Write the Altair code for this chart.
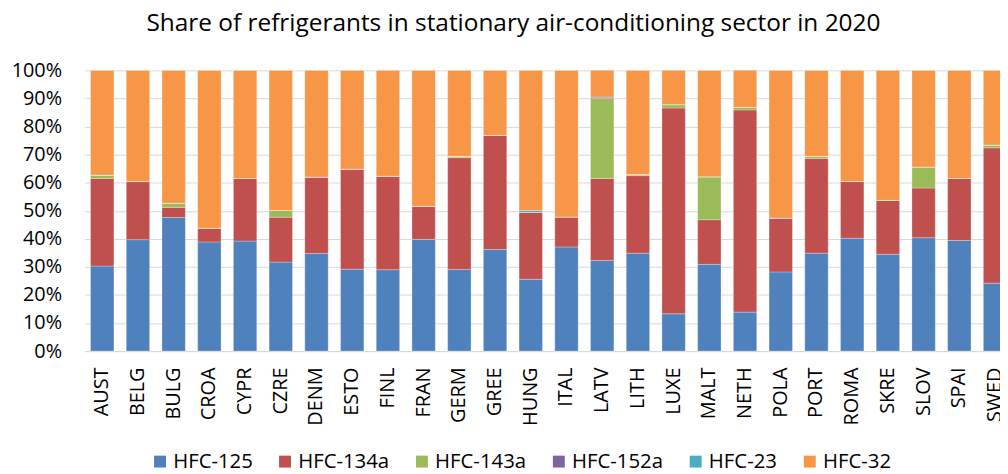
import altair as alt
import pandas as pd

countries = ["AUST", "BELG", "BULG", "CROA", "CYPR", "CZRE", "DENM", "ESTO", "FINL",
             "FRAN", "GERM", "GREE", "HUNG", "ITAL", "LATV", "LITH", "LUXE", "MALT",
             "NETH", "POLA", "PORT", "ROMA", "SKRE", "SLOV", "SPAI", "SWED"]

hfc125 = [30.3, 39.7, 47.6, 38.9, 39.2, 31.7, 34.8, 29.2, 29.0, 39.8, 29.1, 36.2, 25.6,
          37.1, 32.3, 34.9, 13.3, 30.9, 13.9, 28.2, 34.9, 40.2, 34.5, 40.4, 39.4, 24.2]
hfc134a = [31.2, 20.7, 3.6, 4.9, 22.3, 16.0, 27.2, 35.6, 33.3, 11.8, 39.8, 40.7, 23.8,
           10.7, 29.2, 27.6, 73.3, 15.9, 72.0, 19.2, 33.7, 20.2, 19.2, 17.7, 22.1, 48.2]
hfc143a = [1.2, 0.0, 1.5, 0.0, 0.0, 2.4, 0.0, 0.0, 0.0, 0.0, 0.5, 0.0, 0.0,
           0.0, 28.5, 0.4, 1.2, 15.3, 0.9, 0.0, 0.8, 0.0, 0.0, 7.5, 0.0, 1.0]
hfc152a = [0.0, 0.0, 0.0, 0.0, 0.0, 0.0, 0.0, 0.0, 0.0, 0.0, 0.0, 0.0, 0.0,
           0.0, 0.5, 0.0, 0.0, 0.0, 0.0, 0.0, 0.0, 0.0, 0.0, 0.0, 0.0, 0.0]
hfc23 = [0.0, 0.0, 0.0, 0.0, 0.0, 0.0, 0.0, 0.0, 0.0, 0.0, 0.0, 0.0, 0.7,
         0.0, 0.0, 0.0, 0.0, 0.0, 0.0, 0.0, 0.0, 0.0, 0.0, 0.0, 0.0, 0.0]
hfc32 = [37.3, 39.6, 47.3, 56.2, 38.5, 49.9, 38.0, 35.2, 37.7, 48.4, 30.6, 23.1, 49.9,
         52.2, 9.5, 37.1, 12.2, 37.9, 13.2, 52.6, 30.6, 39.6, 46.3, 34.4, 38.5, 26.6]

series_names = ["HFC-125", "HFC-134a", "HFC-143a", "HFC-152a", "HFC-23", "HFC-32"]
series_colors = ["#4F81BD", "#C0504D", "#9BBB59", "#8064A2", "#4BACC6", "#F79646"]
tick_values = [0, 10, 20, 30, 40, 50, 60, 70, 80, 90, 100]
title_text = "Share of refrigerants in stationary air-conditioning sector in 2020"

all_series = [hfc125, hfc134a, hfc143a, hfc152a, hfc23, hfc32]
rows = []
for si, (name, vals) in enumerate(zip(series_names, all_series)):
    for c, v in zip(countries, vals):
        rows.append({"country": c, "refrigerant": name, "share": v, "ord": si})
df = pd.DataFrame(rows)

FONT = "Open Sans"

chart = alt.Chart(
    df,
    title=alt.Title(
        text=title_text, font=FONT, fontSize=24.6, fontWeight="normal", color="black",
        anchor="middle", frame="group", offset=5, baseline="alphabetic", dx=-29,
    ),
).mark_bar(stroke="white", strokeWidth=0.8, strokeOpacity=0.35).encode(
    x=alt.X(
        "country:N", sort=countries,
        scale=alt.Scale(range=[0, 936], paddingInner=0.345, paddingOuter=0.1725),
        axis=alt.Axis(
            title=None, labelAngle=-90, labelFontSize=20, labelFont=FONT, labelColor="black",
            labelPadding=16, ticks=False, tickSize=0, domainColor="#D9D9D9", domainWidth=1,
            grid=False, labelOverlap=False,
        ),
    ),
    y=alt.Y(
        "share:Q", stack="zero",
        scale=alt.Scale(domain=[0, 100], nice=False),
        axis=alt.Axis(
            title=None, values=tick_values, labelExpr="datum.value + '%'", labelFontSize=20,
            labelFont=FONT, labelColor="black", labelPadding=23, ticks=False, tickSize=0,
            domain=False, gridColor="#D9D9D9", gridWidth=1,
        ),
    ),
    color=alt.Color(
        "refrigerant:N",
        scale=alt.Scale(domain=series_names, range=series_colors),
        legend=alt.Legend(
            title=None, orient="none", legendX=66, legendY=384, direction="horizontal",
            symbolType="square", symbolSize=144, symbolStrokeWidth=0, symbolOpacity=1,
            labelFontSize=20.5, labelFont=FONT, labelColor="black", labelOffset=3,
            columnPadding=22, padding=0,
        ),
    ),
    order=alt.Order("ord:Q", sort="ascending"),
).properties(
    width=923, height=283,
    autosize=alt.AutoSizeParams(type="none"),
    padding={"left": 77, "top": 61, "right": 0, "bottom": 122},
).configure_view(stroke=None)

chart.save("out.html", embed_options={"renderer": "svg", "actions": False})
